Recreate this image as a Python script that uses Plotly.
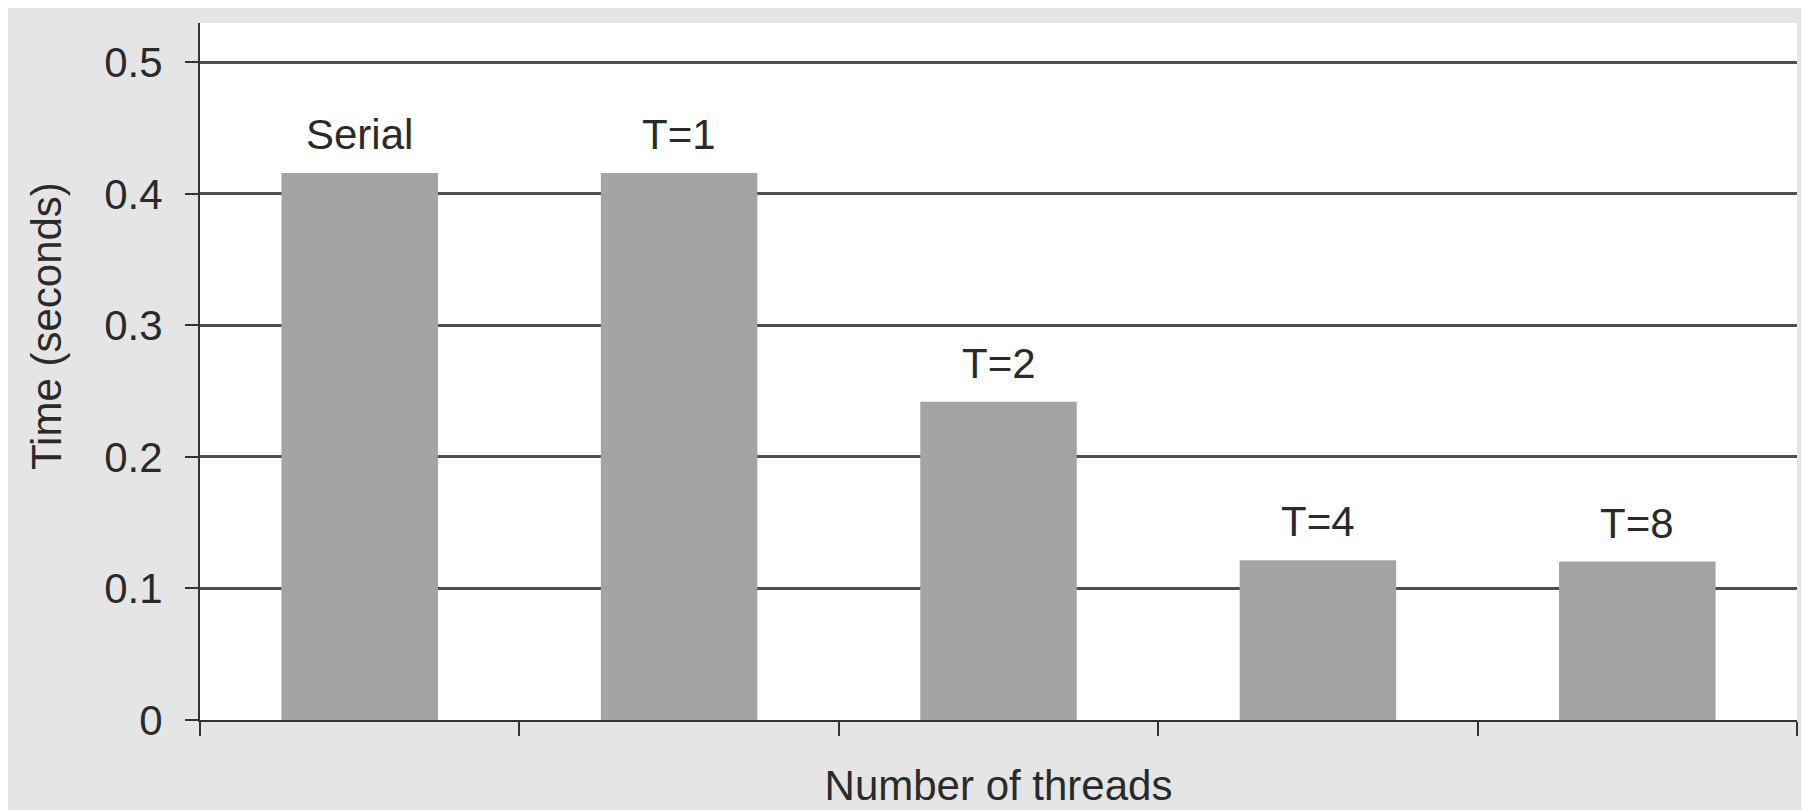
import plotly.graph_objects as go

categories = ["Serial", "T=1", "T=2", "T=4", "T=8"]
times = [0.416, 0.416, 0.242, 0.1215, 0.1205]
labels = ["Serial", "T=1", "T=2", "T=4", "T=8"]
y_ticks = [0, 0.1, 0.2, 0.3, 0.4, 0.5]
y_ticktext = ["0", "0.1", "0.2", "0.3", "0.4", "0.5"]

W, H = 1809, 810
L, R, T, B = 192, 20, 15, 98
pw, ph = W - L - R, H - T - B

def px_x(p):
    return (p - L) / pw

def px_y(p):
    return (H - B - p) / ph

FONT = "Liberation Sans, Arial, sans-serif"
TXT = "#2a2a2a"

fig = go.Figure()
fig.add_trace(go.Bar(
    x=categories, y=times, width=0.49,
    marker=dict(color="#a4a4a4", line=dict(width=0)),
    hoverinfo="skip",
))

annotations = []
for c, v, t in zip(categories, times, labels):
    annotations.append(dict(x=c, y=v, xref="x", yref="y", text=t, showarrow=False,
                            yanchor="bottom", xanchor="center", yshift=13,
                            font=dict(family=FONT, size=42, color=TXT)))
annotations.append(dict(x=px_x(38), y=px_y(318), xref="paper", yref="paper",
                        text="Time (seconds)", textangle=-90, showarrow=False,
                        xanchor="center", yanchor="middle",
                        font=dict(family=FONT, size=42, color=TXT)))

fig.update_layout(
    width=W, height=H,
    margin=dict(l=L, r=R, t=T, b=B, autoexpand=False),
    paper_bgcolor="#e5e5e5", plot_bgcolor="white",
    showlegend=False,
    font=dict(family=FONT, size=42, color=TXT),
    annotations=annotations,
    bargap=0.51,
)
fig.update_xaxes(
    type="category", range=[-0.5, 4.5], tickson="boundaries",
    ticks="outside", ticklen=14, tickwidth=2, tickcolor="#333",
    showticklabels=False, showline=True, linecolor="#333", linewidth=2,
    showgrid=False, zeroline=False,
    title=dict(text="Number of threads", standoff=50,
               font=dict(family=FONT, size=42, color=TXT)),
)
fig.update_yaxes(
    range=[0, 0.53], tickvals=y_ticks, ticktext=y_ticktext,
    ticks="outside", ticklen=13, tickwidth=2, tickcolor="#333",
    showline=True, linecolor="#333", linewidth=2,
    showgrid=True, gridcolor="#4f4f4f", gridwidth=2.5, zeroline=False,
    ticklabelstandoff=14,
    tickfont=dict(family=FONT, size=42, color=TXT),
)

fig.write_html("out.html")
